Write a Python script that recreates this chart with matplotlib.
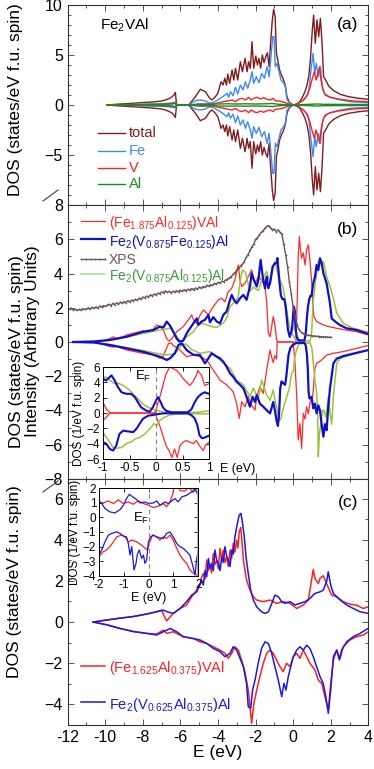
import numpy as np
import matplotlib
matplotlib.use("Agg")
import matplotlib.pyplot as plt
from matplotlib.lines import Line2D
from matplotlib.ticker import MultipleLocator

plt.rcParams['font.family'] = ['Liberation Sans', 'DejaVu Sans']
plt.rcParams['mathtext.fontset'] = 'custom'
plt.rcParams['mathtext.rm'] = 'Liberation Sans'
plt.rcParams['mathtext.it'] = 'Liberation Sans:italic'

# ---------------- Panel (a): Fe2VAl (spin-down = mirror of spin-up) ----------------
a_total = [(-9.92,0),(-9.5,0.06),(-9.0,0.12),(-8.5,0.18),(-8.0,0.24),(-7.5,0.3),(-7.0,0.4),(-6.8,0.5),(-6.6,0.65),
           (-6.45,0.8),(-6.35,1.0),(-6.27,1.25),(-6.22,0.3),(-6.18,0.0),(-5.56,0.0),(-5.20,0.83),(-4.94,1.57),(-4.67,1.33),
           (-4.44,0.67),(-4.32,0.5),(-4.14,0.83),(-4.01,1.17),(-3.91,1.83),(-3.84,2.33),(-3.73,2.0),(-3.64,2.67),(-3.55,2.0),
           (-3.48,3.1),(-3.38,2.17),(-3.25,3.5),(-3.16,2.5),(-3.07,3.67),(-2.95,2.5),(-2.81,4.33),(-2.70,3.33),(-2.56,4.67),
           (-2.45,3.33),(-2.37,4.33),(-2.28,3.67),(-2.19,6.33),(-2.10,3.67),(-1.99,4.9),(-1.90,4.0),(-1.82,4.67),(-1.73,3.67),
           (-1.64,5.0),(-1.55,4.23),(-1.46,4.83),(-1.37,5.23),(-1.28,3.83),(-1.20,6.17),(-1.11,8.5),(-1.04,9.57),(-0.96,8.83),
           (-0.89,5.17),(-0.80,4.33),(-0.72,3.5),(-0.63,3.0),(-0.54,2.67),(-0.45,2.17),(-0.40,1.77),(-0.33,0.83),(-0.22,0.33),
           (-0.06,0.07),(0.03,0.0),(0.17,0.07),(0.35,0.33),(0.49,0.77),(0.63,1.33),(0.74,2.0),(0.84,3.0),(0.93,4.83),(1.02,7.5),
           (1.09,9.0),(1.18,6.17),(1.27,8.5),(1.36,6.83),(1.45,8.67),(1.54,6.17),(1.62,2.83),(1.73,2.5),(1.89,1.9),(2.16,1.43),
           (2.51,1.07),(2.95,0.83),(3.49,0.67),(4.0,0.57)]
a_fe = [(-9.92,0),(-9.0,0.04),(-8.0,0.08),(-7.0,0.12),(-6.6,0.18),(-6.35,0.25),(-6.25,0.3),(-6.2,0.05),(-6.18,0),(-5.56,0),
        (-5.2,0.43),(-4.94,0.5),(-4.67,0.4),(-4.44,0.17),(-4.23,0.27),(-4.01,0.5),(-3.87,0.67),(-3.70,0.9),(-3.52,1.17),
        (-3.43,0.77),(-3.34,1.33),(-3.20,0.93),(-3.07,1.77),(-2.95,1.1),(-2.81,2.0),(-2.67,1.5),(-2.54,2.33),(-2.42,1.67),
        (-2.28,2.5),(-2.19,3.33),(-2.10,2.17),(-1.96,2.83),(-1.82,2.23),(-1.67,3.17),(-1.53,2.67),(-1.39,3.83),(-1.28,2.83),
        (-1.18,4.83),(-1.09,6.83),(-1.02,6.83),(-0.95,3.83),(-0.86,4.17),(-0.75,3.33),(-0.65,2.5),(-0.50,2.17),(-0.41,1.77),
        (-0.33,0.57),(-0.18,0.17),(0.03,0),(0.29,0.17),(0.49,0.43),(0.70,0.83),(0.84,1.5),(0.95,3.5),(1.06,5.17),(1.15,3.17),
        (1.23,4.17),(1.34,2.83),(1.45,3.83),(1.55,1.83),(1.66,1.17),(1.89,0.83),(2.33,0.57),(3.04,0.33),(4.0,0.23)]
a_v = [(-9.92,0),(-8.0,0.03),(-7.0,0.06),(-6.5,0.1),(-6.3,0.2),(-6.22,0.05),(-6.18,0),(-5.56,0),(-4.94,0.1),(-4.23,0.1),
       (-3.87,0.27),(-3.52,0.4),(-3.25,0.5),(-3.07,0.33),(-2.90,0.57),(-2.72,0.67),(-2.54,0.5),(-2.37,0.77),(-2.24,0.5),
       (-2.10,0.67),(-1.92,0.77),(-1.74,0.6),(-1.57,0.73),(-1.39,0.57),(-1.21,0.5),(-1.07,0.67),(-0.95,0.43),(-0.77,0.4),
       (-0.59,0.33),(-0.41,0.23),(-0.24,0.1),(0.03,0),(0.29,0.17),(0.56,0.5),(0.77,1.0),(0.91,1.83),(1.02,2.67),(1.13,3.33),
       (1.22,2.5),(1.30,3.0),(1.41,3.83),(1.48,2.5),(1.59,1.5),(1.71,1.0),(1.98,0.77),(2.51,0.57),(3.22,0.4),(4.0,0.33)]
a_al = [(-9.92,0),(-8.0,0.04),(-7.0,0.07),(-6.4,0.12),(-6.25,0.15),(-6.2,0.02),(-5.56,0),(-5.0,0.08),(-4.5,0.06),(-4.0,0.1),
        (-3.5,0.12),(-3.0,0.1),(-2.5,0.12),(-2.0,0.1),(-1.5,0.12),(-1.1,0.15),(-0.8,0.08),(-0.3,0.03),(0.03,0),(0.5,0.04),
        (1.0,0.08),(1.3,0.1),(1.6,0.07),(2.5,0.06),(4.0,0.05)]

# ---------------- Panel (b) ----------------
xps_E = np.round(np.arange(-12.0, 2.001, 0.1), 2)
xps = [1.95,1.90,1.98,1.88,1.92,1.85,1.90,1.87,1.95,1.90,
       1.93,2.00,1.92,2.02,1.97,2.05,1.98,2.10,2.03,2.12,
       2.08,2.15,2.20,2.12,2.25,2.18,2.28,2.22,2.33,2.26,
       2.36,2.30,2.42,2.35,2.45,2.40,2.50,2.44,2.56,2.50,
       2.62,2.58,2.68,2.63,2.75,2.70,2.80,2.76,2.86,2.82,
       2.92,2.88,2.98,2.90,2.95,2.88,2.96,2.92,3.00,2.94,
       3.02,2.97,3.05,3.00,3.08,3.03,3.12,3.06,3.15,3.10,
       3.20,3.15,3.24,3.20,3.30,3.26,3.35,3.30,3.42,3.38,
       3.48,3.45,3.55,3.52,3.62,3.66,3.75,3.82,3.95,4.05,
       4.20,4.30,4.45,4.55,4.70,4.95,5.10,5.35,5.55,5.70,
       6.00,6.10,6.25,6.40,6.50,6.65,6.75,6.80,6.65,6.55,
       6.60,6.45,6.55,6.40,6.30,5.70,5.10,4.40,3.50,2.80,
       2.05,1.50,1.05,0.75,0.60,0.50,0.45,0.42,0.40,0.38,
       0.36,0.35,0.34,0.33,0.32,0.31,0.30,0.30,0.29,0.28,
       0.28]

b_red_up = [(-10.64,0),(-10.2,0.05),(-9.93,0.12),(-9.75,0.21),(-9.57,0.3),(-9.4,0.2),(-9.04,0.31),(-8.86,0.41),(-8.5,0.51),
            (-7.98,0.65),(-7.8,0.55),(-7.44,0.75),(-7.27,0.99),(-7.09,0.9),(-6.91,0.7),(-6.73,0.2),(-6.6,0.05),(-6.45,0.2),
            (-6.2,0.6),(-6.02,0.75),(-5.85,0.9),(-5.58,1.29),(-5.4,1.58),(-5.31,1.3),(-5.13,1.09),(-4.96,1.55),(-4.78,1.87),
            (-4.51,1.6),(-4.25,2.07),(-3.98,2.46),(-3.81,2.55),(-3.63,2.35),(-3.45,2.94),(-3.27,3.14),(-3.1,3.63),(-3.01,4.11),
            (-2.92,4.5),(-2.83,3.63),(-2.74,3.24),(-2.56,3.43),(-2.39,3.82),(-2.21,4.21),(-2.03,3.43),(-1.85,3.82),(-1.68,3.63),
            (-1.5,3.24),(-1.41,2.36),(-1.32,0.5),(-1.23,0.31),(-1.06,1.48),(-0.97,0.99),(-0.88,0.12),(-0.8,0.0),(0.15,0.0),
            (0.22,2.5),(0.27,5.0),(0.33,6.16),(0.40,5.3),(0.45,4.89),(0.54,5.2),(0.63,4.5),(0.72,5.4),(0.81,5.67),(0.9,4.7),
            (0.98,3.63),(1.04,2.26),(1.11,1.48),(1.25,1.19),(1.61,0.99),(1.9,0.9),(2.32,0.8),(2.8,0.7),(3.38,0.6),(3.7,0.5),(4.0,0.42)]
b_red_dn = [(-10.64,0),(-10.2,-0.1),(-9.75,-0.27),(-9.57,-0.3),(-9.4,-0.25),(-8.86,-0.47),(-7.98,-0.66),(-7.44,-0.75),
            (-7.09,-0.95),(-6.91,-0.8),(-6.64,-0.1),(-6.5,-0.05),(-6.38,-0.2),(-6.02,-0.47),(-5.67,-0.86),(-5.31,-0.75),
            (-4.96,-0.86),(-4.6,-1.05),(-4.25,-1.64),(-3.9,-2.22),(-3.54,-2.51),(-3.19,-2.9),(-3.01,-3.59),(-2.87,-4.46),
            (-2.74,-3.5),(-2.56,-3.78),(-2.39,-3.2),(-2.21,-3.7),(-2.03,-3.97),(-1.94,-3.2),(-1.77,-2.61),(-1.59,-3.0),
            (-1.41,-1.64),(-1.32,-1.05),(-1.23,-0.47),(-1.14,-0.9),(-1.06,-1.2),(-0.97,-0.8),(-0.88,-1.0),(-0.85,0.0),(0.0,0.0),
            (0.05,-0.6),(0.1,-1.25),(0.19,-3.2),(0.27,-5.73),(0.36,-4.76),(0.45,-6.22),(0.54,-4.17),(0.63,-4.5),(0.72,-3.78),
            (0.81,-4.2),(0.9,-3.49),(1.04,-3.2),(1.16,-1.54),(1.25,-1.25),(1.52,-1.05),(1.78,-0.76),(2.14,-0.66),(2.67,-0.56),
            (3.38,-0.37),(4.0,-0.2)]
b_blue_up = [(-11.7,0),(-10.6,0.03),(-9.75,0.12),(-8.86,0.31),(-7.98,0.6),(-7.44,0.7),(-7.09,0.9),(-6.9,0.85),(-6.73,1.19),
             (-6.55,0.95),(-6.38,0.6),(-6.2,0.2),(-6.05,0.02),(-5.85,0.08),(-5.67,0.5),(-5.49,0.8),(-5.31,1.09),(-5.13,1.38),
             (-5.05,1.0),(-4.87,1.2),(-4.69,1.3),(-4.51,1.58),(-4.43,1.15),(-4.25,1.45),(-4.07,1.2),(-3.89,1.09),(-3.72,1.58),
             (-3.54,1.78),(-3.36,2.46),(-3.27,2.75),(-3.15,2.46),(-3.01,2.26),(-2.83,2.55),(-2.65,2.75),(-2.48,2.46),(-2.3,3.24),
             (-2.21,4.01),(-2.12,3.7),(-1.94,3.24),(-1.85,3.63),(-1.73,4.79),(-1.62,3.82),(-1.5,3.14),(-1.41,3.82),(-1.32,3.14),
             (-1.23,3.43),(-1.09,4.41),(-0.97,4.6),(-0.88,4.6),(-0.84,4.9),(-0.72,3.4),(-0.65,2.7),(-0.56,2.5),(-0.47,2.5),
             (-0.4,2.07),(-0.34,1.4),(-0.28,0.74),(-0.18,0.3),(-0.06,0.74),(0.01,1.76),(0.04,2.07),(0.09,1.8),(0.13,0.74),
             (0.19,0.3),(0.29,0.09),(0.6,0.09),(0.67,0.5),(0.73,1.4),(0.79,2.07),(0.86,2.5),(0.92,2.7),(0.98,2.7),(1.07,3.43),
             (1.16,3.8),(1.25,4.5),(1.34,4.2),(1.43,4.89),(1.52,4.6),(1.61,4.02),(1.78,3.43),(1.96,2.26),(2.05,1.38),(2.23,1.2),
             (2.49,0.99),(2.85,0.8),(3.38,0.7),(3.91,0.5),(4.0,0.48)]
b_blue_dn = [(-11.7,0),(-10.6,-0.03),(-9.75,-0.18),(-8.86,-0.37),(-7.98,-0.57),(-7.09,-0.86),(-6.73,-1.05),(-6.55,-0.95),
             (-6.29,-0.65),(-6.11,-0.18),(-5.93,-0.08),(-5.67,-0.47),(-5.31,-0.75),(-4.96,-0.76),(-4.69,-1.25),(-4.51,-0.95),
             (-4.34,-0.66),(-4.07,-0.85),(-3.9,-0.95),(-3.72,-1.15),(-3.54,-1.45),(-3.36,-1.83),(-3.19,-2.03),(-3.01,-2.32),
             (-2.83,-2.5),(-2.65,-2.7),(-2.48,-3.2),(-2.3,-3.78),(-2.16,-3.2),(-2.03,-3.5),(-1.94,-3.1),(-1.77,-3.6),
             (-1.59,-3.78),(-1.41,-3.98),(-1.23,-4.17),(-1.06,-3.5),(-0.97,-4.0),(-0.88,-4.6),(-0.81,-4.9),(-0.75,-4.26),
             (-0.69,-2.73),(-0.62,-2.3),(-0.53,-2.4),(-0.43,-2.5),(-0.37,-2.07),(-0.31,-1.43),(-0.25,-0.78),(-0.15,-0.35),
             (0.0,-0.15),(0.2,-0.05),(0.6,-0.05),(0.67,-0.2),(0.73,-0.7),(0.78,-1.57),(0.82,-2.9),(0.87,-3.3),(0.98,-3.2),
             (1.07,-3.88),(1.16,-3.6),(1.25,-4.17),(1.34,-3.7),(1.43,-4.0),(1.52,-4.85),(1.61,-5.53),(1.69,-4.8),(1.78,-5.15),
             (1.87,-3.8),(1.96,-2.71),(2.05,-2.0),(2.14,-1.25),(2.32,-0.97),(2.67,-0.82),(3.2,-0.68),(4.0,-0.47)]
b_grn_up = [(-11.7,0),(-10.6,0.03),(-9.75,0.1),(-8.86,0.28),(-7.98,0.5),(-7.09,0.7),(-6.8,0.75),(-6.55,0.8),(-6.29,0.5),
            (-6.02,0.04),(-5.85,0.1),(-5.67,0.3),(-5.31,0.6),(-5.13,0.9),(-4.87,1.1),(-4.6,1.0),(-4.34,0.9),(-4.07,0.85),
            (-3.72,1.1),(-3.54,1.4),(-3.36,2.07),(-3.1,2.35),(-2.92,2.65),(-2.83,3.5),(-2.7,4.2),(-2.56,4.1),(-2.48,3.8),
            (-2.3,2.95),(-2.12,3.2),(-1.85,3.0),(-1.68,3.6),(-1.41,4.11),(-1.23,3.43),(-1.06,4.4),(-0.97,4.69),(-0.87,4.25),
            (-0.78,3.82),(-0.53,3.16),(-0.43,2.5),(-0.34,1.85),(-0.25,1.2),(-0.15,0.74),(-0.06,0.52),(0.04,0.3),(0.16,0.09),
            (0.9,0.05),(0.98,0.5),(1.07,2.46),(1.16,3.24),(1.25,4.0),(1.34,4.7),(1.43,4.89),(1.52,4.4),(1.61,4.7),(1.78,3.82),
            (1.96,3.24),(2.14,2.55),(2.32,1.68),(2.67,1.09),(3.2,0.8),(3.91,0.6),(4.0,0.58)]
b_grn_dn = [(-11.7,0),(-10.6,-0.03),(-9.75,-0.15),(-8.86,-0.33),(-7.98,-0.5),(-7.09,-0.7),(-6.73,-0.75),(-6.38,-0.7),
            (-6.1,-0.45),(-5.9,-0.1),(-5.67,-0.15),(-5.4,-0.45),(-4.96,-0.66),(-4.43,-0.56),(-3.9,-1.05),(-3.36,-1.54),
            (-3.01,-2.22),(-2.65,-2.5),(-2.3,-3.2),(-2.12,-2.7),(-1.85,-3.3),(-1.68,-2.22),(-1.59,-2.5),(-1.41,-3.1),
            (-1.23,-3.4),(-1.06,-2.8),(-0.95,-3.5),(-0.87,-3.8),(-0.78,-4.6),(-0.65,-4.5),(-0.56,-4.0),(-0.4,-3.4),
            (-0.21,-2.73),(-0.09,-1.86),(0.01,-1.7),(0.07,-0.98),(0.16,-0.55),(0.3,-0.12),(0.9,-0.05),(1.0,-0.4),(1.07,-1.2),
            (1.16,-2.2),(1.25,-3.0),(1.3,-4.0),(1.34,-6.7),(1.4,-5.34),(1.47,-4.8),(1.57,-4.0),(1.64,-4.0),(1.75,-4.4),
            (1.87,-3.2),(1.96,-4.1),(2.05,-4.8),(2.14,-3.2),(2.23,-2.2),(2.32,-1.25),(2.49,-0.97),(3.02,-0.76),(4.0,-0.47)]

# inset (b)
ib_red_up = [(-1,1.4),(-0.94,0.54),(-0.87,0),(-0.03,0),(0.01,0.54),(0.04,1.4),(0.07,2.0),(0.13,3.6),(0.19,5.1),(0.26,6.0),
             (0.32,5.8),(0.38,5.6),(0.45,5.1),(0.51,4.5),(0.57,4.1),(0.64,3.6),(0.7,4.1),(0.76,4.9),(0.79,5.56),(0.86,4.9),
             (0.92,3.6),(1.0,3.8)]
ib_red_dn = [(-1,-1.0),(-0.94,-0.57),(-0.87,0),(0.0,0),(0.01,-0.57),(0.07,-1.64),(0.13,-2.95),(0.19,-4.26),(0.26,-5.1),
             (0.3,-5.8),(0.35,-4.7),(0.4,-5.8),(0.45,-4.26),(0.51,-3.8),(0.57,-3.6),(0.64,-3.8),(0.7,-4.0),(0.76,-3.6),
             (0.82,-4.26),(0.89,-4.9),(0.93,-4.26),(1.0,-3.8)]
ib_blue_up = [(-1,4.47),(-0.94,4.25),(-0.84,4.9),(-0.78,4.25),(-0.72,3.4),(-0.65,2.7),(-0.56,2.5),(-0.47,2.5),(-0.4,2.07),
              (-0.34,1.4),(-0.28,0.74),(-0.18,0.3),(-0.12,0.17),(-0.06,0.74),(0.01,1.76),(0.04,2.07),(0.09,1.4),(0.13,0.74),
              (0.19,0.3),(0.29,0.09),(0.6,0.09),(0.67,0.5),(0.73,1.4),(0.79,2.07),(0.86,2.5),(0.92,2.7),(1.0,2.5)]
ib_blue_dn = [(-1,-3.8),(-0.94,-4.0),(-0.87,-4.7),(-0.81,-4.9),(-0.75,-4.26),(-0.69,-2.73),(-0.62,-2.3),(-0.53,-2.4),
              (-0.43,-2.5),(-0.37,-2.07),(-0.31,-1.43),(-0.25,-0.78),(-0.15,-0.35),(-0.06,-0.26),(0.04,-0.13),(0.16,-0.04),
              (0.6,-0.04),(0.67,-0.3),(0.73,-0.7),(0.78,-1.57),(0.82,-2.9),(0.87,-3.3),(0.92,-3.2),(1.0,-2.95)]
ib_grn_up = [(-1,4.69),(-0.94,4.69),(-0.87,4.25),(-0.78,3.82),(-0.72,3.9),(-0.62,3.6),(-0.53,3.16),(-0.43,2.5),(-0.34,1.85),
             (-0.25,1.2),(-0.15,0.74),(-0.06,0.52),(0.04,0.3),(0.16,0.09),(0.79,0.09),(1.0,0.3)]
ib_grn_dn = [(-1,-2.5),(-0.94,-3.2),(-0.87,-3.8),(-0.81,-4.5),(-0.75,-4.6),(-0.65,-4.5),(-0.56,-4.0),(-0.47,-3.8),(-0.4,-3.4),
             (-0.31,-3.2),(-0.21,-2.73),(-0.15,-2.3),(-0.09,-1.86),(-0.04,-1.4),(0.01,-1.64),(0.07,-0.98),(0.16,-0.55),
             (0.26,-0.26),(0.42,-0.13),(1.0,-0.1)]

# ---------------- Panel (c) ----------------
c_red_up = [(-10.64,0),(-9.93,0.1),(-9.22,0.19),(-8.5,0.27),(-7.8,0.39),(-7.27,0.5),(-7.0,0.58),(-6.82,0.2),(-6.73,0.06),
            (-6.55,0.25),(-6.38,0.42),(-6.02,0.66),(-5.67,0.83),(-5.4,1.23),(-5.22,1.45),(-4.96,1.8),(-4.87,2.2),(-4.78,2.36),
            (-4.69,2.1),(-4.6,3.01),(-4.52,2.5),(-4.43,2.76),(-4.34,2.4),(-4.25,3.33),(-4.16,2.8),(-4.07,3.0),(-3.98,2.6),
            (-3.89,3.58),(-3.8,3.0),(-3.72,3.5),(-3.63,2.9),(-3.54,3.17),(-3.45,2.7),(-3.36,3.5),(-3.27,3.1),(-3.19,3.82),
            (-3.1,3.4),(-3.01,3.98),(-2.94,3.6),(-2.87,4.39),(-2.79,4.6),(-2.72,3.9),(-2.65,3.01),(-2.48,2.04),(-2.3,1.55),
            (-2.12,1.23),(-1.94,1.07),(-1.59,0.99),(-1.23,1.07),(-0.88,0.91),(-0.53,0.99),(-0.17,0.91),(0.19,0.66),(0.54,0.83),
            (0.81,1.07),(0.98,2.04),(1.07,2.56),(1.16,2.12),(1.34,1.87),(1.43,2.12),(1.6,2.25),(1.78,1.87),(2.05,1.31),
            (2.32,1.23),(2.67,0.99),(3.02,0.87),(3.38,0.82),(3.73,0.66),(4.0,0.74)]
c_blue_up = [(-10.64,0),(-9.93,0.1),(-9.22,0.19),(-8.5,0.27),(-7.8,0.39),(-7.27,0.5),(-6.91,0.58),(-6.7,0.5),(-6.38,0.42),
             (-6.02,0.66),(-5.67,0.99),(-5.4,1.31),(-5.13,1.47),(-4.87,2.04),(-4.78,1.8),(-4.69,2.5),(-4.6,2.2),(-4.51,3.09),
             (-4.43,2.6),(-4.34,2.85),(-4.25,2.5),(-4.16,3.5),(-4.07,3.0),(-3.98,2.85),(-3.89,2.5),(-3.8,3.17),(-3.72,2.9),
             (-3.63,3.66),(-3.54,3.2),(-3.45,3.01),(-3.36,2.7),(-3.27,3.5),(-3.19,3.3),(-3.1,4.14),(-2.97,4.79),(-2.87,5.2),
             (-2.78,5.28),(-2.69,4.79),(-2.6,4.14),(-2.51,3.17),(-2.39,2.36),(-2.26,1.55),(-2.12,1.07),(-1.94,0.74),(-1.68,0.5),
             (-1.5,0.42),(-1.32,0.5),(-1.14,0.9),(-0.97,1.31),(-0.79,1.23),(-0.61,0.99),(-0.44,0.91),(-0.17,0.99),(0.1,0.83),
             (0.36,0.91),(0.63,0.99),(0.89,1.15),(1.16,1.39),(1.43,1.47),(1.6,1.55),(1.78,1.96),(1.87,2.44),(2.0,1.8),
             (2.14,1.39),(2.5,1.07),(2.85,0.83),(3.2,0.66),(3.56,0.5),(4.0,0.42)]
c_red_dn = [(-10.64,0),(-9.93,-0.13),(-9.22,-0.31),(-8.5,-0.46),(-7.8,-0.55),(-7.27,-0.58),(-6.91,-0.39),(-6.73,-0.55),
            (-6.38,-0.47),(-5.85,-0.71),(-5.31,-0.8),(-4.96,-0.96),(-4.6,-1.04),(-4.25,-1.2),(-3.89,-1.36),(-3.63,-1.52),
            (-3.45,-1.76),(-3.27,-1.52),(-3.1,-1.2),(-2.92,-1.36),(-2.74,-1.85),(-2.57,-2.41),(-2.39,-3.3),(-2.26,-4.43),
            (-2.21,-4.92),(-2.09,-3.95),(-1.94,-3.3),(-1.77,-2.65),(-1.59,-2.0),(-1.41,-1.52),(-1.23,-1.36),(-1.06,-1.52),
            (-0.88,-1.85),(-0.7,-2.17),(-0.53,-2.41),(-0.35,-2.0),(-0.17,-2.17),(0.01,-1.68),(0.19,-1.52),(0.36,-1.76),
            (0.54,-1.36),(0.72,-1.68),(0.89,-2.0),(1.16,-2.33),(1.34,-2.82),(1.52,-2.98),(1.69,-3.62),(1.87,-4.27),(2.0,-2.98),
            (2.14,-1.85),(2.32,-1.36),(2.5,-1.76),(2.67,-1.2),(3.02,-0.87),(3.38,-0.71),(3.73,-0.63),(4.0,-0.47)]
c_blue_dn = [(-10.64,0),(-9.93,-0.13),(-9.22,-0.31),(-8.5,-0.46),(-7.8,-0.55),(-7.27,-0.63),(-6.91,-0.47),(-6.73,-0.39),
             (-6.55,-0.31),(-6.2,-0.47),(-5.85,-0.71),(-5.31,-0.8),(-4.96,-0.87),(-4.6,-1.04),(-4.25,-1.28),(-3.89,-1.44),
             (-3.63,-1.68),(-3.36,-1.52),(-3.19,-1.2),(-3.01,-1.36),(-2.83,-1.76),(-2.65,-2.17),(-2.48,-2.98),(-2.39,-4.11),
             (-2.26,-4.19),(-2.16,-3.3),(-2.03,-2.82),(-1.86,-2.0),(-1.68,-1.28),(-1.5,-0.96),(-1.32,-1.04),(-1.14,-1.52),
             (-0.97,-2.17),(-0.79,-2.82),(-0.61,-3.62),(-0.49,-2.98),(-0.38,-3.3),(-0.26,-2.65),(-0.13,-2.17),(0.01,-1.68),
             (0.19,-1.36),(0.36,-1.2),(0.54,-1.36),(0.72,-1.12),(0.89,-1.28),(1.07,-1.68),(1.25,-2.17),(1.43,-2.65),(1.6,-2.98),
             (1.74,-3.62),(1.87,-4.43),(2.0,-3.3),(2.14,-1.68),(2.32,-1.36),(2.46,-1.84),(2.58,-1.36),(2.85,-0.96),(3.2,-0.71),
             (3.56,-0.55),(4.0,-0.3)]

# inset (c)
ic_red_up = [(-2,1.05),(-1.83,0.98),(-1.62,1.12),(-1.42,0.94),(-1.22,1.2),(-1.02,0.94),(-0.82,1.05),(-0.62,0.89),(-0.42,1.12),
             (-0.21,0.94),(-0.01,0.82),(0.19,0.67),(0.39,0.76),(0.59,0.94),(0.72,0.72),(0.86,1.05),(0.97,1.6),(1.06,2.3),
             (1.15,2.6),(1.26,1.82),(1.46,1.78),(1.6,2.05),(1.8,1.7),(1.93,1.95)]
ic_blue_up = [(-2,1.12),(-1.89,0.94),(-1.76,0.6),(-1.56,0.37),(-1.36,0.3),(-1.15,0.53),(-1.02,0.82),(-0.89,1.28),(-0.78,1.57),
              (-0.64,1.39),(-0.48,1.21),(-0.35,0.98),(-0.15,1.05),(-0.01,0.94),(0.19,0.98),(0.32,1.12),(0.46,0.82),(0.66,1.05),
              (0.79,0.94),(0.93,1.12),(1.06,1.28),(1.19,1.05),(1.33,1.39),(1.53,1.5),(1.73,1.73),(1.87,1.95),(1.96,1.6)]
ic_red_dn = [(-2,-2.68),(-1.83,-2.34),(-1.69,-2.22),(-1.56,-2.0),(-1.42,-1.67),(-1.29,-1.33),(-1.09,-1.21),(-0.95,-1.33),
             (-0.82,-1.67),(-0.68,-1.55),(-0.48,-1.67),(-0.28,-1.9),(-0.15,-2.1),(-0.05,-2.22),(0.05,-1.67),(0.16,-1.21),
             (0.32,-1.33),(0.46,-1.55),(0.59,-1.33),(0.72,-1.44),(0.86,-1.21),(0.99,-1.55),(1.13,-2.1),(1.26,-2.57),(1.4,-2.9),
             (1.53,-3.14),(1.66,-3.59),(1.8,-3.82),(1.93,-3.93)]
ic_blue_dn = [(-2,-2.57),(-1.89,-2.22),(-1.76,-1.67),(-1.62,-1.21),(-1.49,-1.1),(-1.29,-0.99),(-1.15,-1.1),(-1.02,-1.28),
              (-0.89,-1.33),(-0.82,-1.78),(-0.75,-2.57),(-0.68,-2.0),(-0.59,-3.59),(-0.51,-3.14),(-0.46,-2.57),(-0.38,-2.22),
              (-0.28,-2.8),(-0.21,-2.57),(-0.15,-3.14),(-0.08,-2.9),(-0.01,-1.67),(0.08,-1.33),(0.19,-1.21),(0.32,-1.33),
              (0.46,-1.4),(0.59,-1.44),(0.72,-1.1),(0.86,-0.99),(0.99,-1.33),(1.13,-1.78),(1.26,-2.0),(1.4,-2.12),(1.53,-2.34),
              (1.66,-2.57),(1.77,-3.25),(1.87,-3.93),(1.93,-2.9),(2.0,-2.22)]

# ---------------- styling ----------------
C_TOT, C_FE, C_V, C_AL = '#7f1d1d', '#3d8af7', '#ff2020', '#1f8a1f'
C_RED, C_BLUE, C_XPS, C_GRN, C_GRN_TXT, C_GRN_LEG = '#ff2a2a', '#1010c8', '#6b5553', '#9cc23c', '#3a9a3a', '#92ec7a'
C_C_RED, C_C_BLUE = '#ff2020', '#1a1ae0'

W, H = 374.0, 769.0
def rect(l, t, r, b):
    return [l / W, 1 - b / H, (r - l) / W, (b - t) / H]

def xy(pairs):
    a = np.array(pairs, dtype=float)
    return a[:, 0], a[:, 1]

fig = plt.figure(figsize=(3.74, 7.69), dpi=100)
axA = fig.add_axes(rect(67.7, 5, 368.3, 205))
axB = fig.add_axes(rect(67.7, 205, 368.3, 479))
axC = fig.add_axes(rect(67.7, 479, 368.3, 725))

def style_main(ax):
    ax.set_xlim(-12, 4)
    ax.xaxis.set_major_locator(MultipleLocator(2))
    ax.xaxis.set_minor_locator(MultipleLocator(1))
    ax.tick_params(which='both', direction='in', top=True, right=True, labelsize=11.5, width=0.7, color='#555555')
    ax.tick_params(which='major', length=4)
    ax.tick_params(which='minor', length=2.5)
    for s in ax.spines.values():
        s.set_linewidth(0.8)
        s.set_color('#333333')

# ---- (a)
for data, col, lw in [(a_total, C_TOT, 1.0), (a_fe, C_FE, 1.0), (a_v, C_V, 1.0), (a_al, C_AL, 1.0)]:
    e, v = xy(data)
    axA.plot(e, v, color=col, lw=lw)
    axA.plot(e, -v, color=col, lw=lw)
style_main(axA)
axA.set_ylim(-10, 10)
axA.set_yticks([-5, 0, 5, 10])
axA.yaxis.set_minor_locator(MultipleLocator(1))
axA.tick_params(labelbottom=False)
axA.text(-10.3, 8.0, r'Fe$_\mathregular{2}$VAl', fontsize=11, va='center', ha='left')
axA.text(2.9, 8.0, '(a)', fontsize=12.5, va='center', ha='center')
for i, (lab, col) in enumerate([('total', C_TOT), ('Fe', C_FE), ('V', C_V), ('Al', C_AL)]):
    yy = [-2.8, -4.6, -6.3, -7.9][i]
    axA.plot([-10.39, -8.95], [yy, yy], color=col, lw=1.0)
    axA.text(-8.75, yy, lab, color=col, fontsize=10.5, va='center', ha='left')

# ---- (b)
e, v = xy(b_red_up); axB.plot(e, v, color=C_RED, lw=0.9)
e, v = xy(b_red_dn); axB.plot(e, v, color=C_RED, lw=0.9)
e, v = xy(b_grn_up); axB.plot(e, v, color=C_GRN, lw=1.1)
e, v = xy(b_grn_dn); axB.plot(e, v, color=C_GRN, lw=1.1)
e, v = xy(b_blue_up); axB.plot(e, v, color=C_BLUE, lw=1.6)
e, v = xy(b_blue_dn); axB.plot(e, v, color=C_BLUE, lw=1.6)
axB.plot(xps_E, xps, color=C_XPS, lw=1.0, marker='+', ms=1.6, mew=0.5)
style_main(axB)
axB.set_ylim(-8, 8)
axB.yaxis.set_major_locator(MultipleLocator(2))
axB.yaxis.set_minor_locator(MultipleLocator(1))
axB.tick_params(labelbottom=False)
axB.text(2.9, 6.55, '(b)', fontsize=12.5, va='center', ha='center')
leg_b = [(r'(Fe$_\mathregular{1.875}$Al$_\mathregular{0.125}$)VAl', C_RED, C_RED, 0.9, 7.08, None),
         (r'Fe$_\mathregular{2}$(V$_\mathregular{0.875}$Fe$_\mathregular{0.125}$)Al', C_BLUE, C_BLUE, 1.6, 6.0, None),
         ('XPS', C_XPS, C_XPS, 1.0, 4.85, '+'),
         (r'Fe$_\mathregular{2}$(V$_\mathregular{0.875}$Al$_\mathregular{0.125}$)Al', C_GRN_LEG, C_GRN_TXT, 1.1, 3.98, None)]
for lab, lc, tc, lw, yy, mk in leg_b:
    if mk:
        axB.plot(np.linspace(-11.29, -10.01, 6), [yy] * 6, color=lc, lw=lw, marker=mk, ms=1.6, mew=0.5)
    else:
        axB.plot([-11.29, -10.01], [yy, yy], color=lc, lw=lw)
    axB.text(-9.8, yy, lab, color=tc, fontsize=10, va='center_baseline', ha='left')

# inset (b)
insB = fig.add_axes(rect(103, 367, 209, 459))
insB.set_facecolor('white')
for data, col, lw in [(ib_red_up, C_RED, 0.9), (ib_red_dn, C_RED, 0.9), (ib_grn_up, C_GRN, 1.1), (ib_grn_dn, C_GRN, 1.1),
                      (ib_blue_up, C_BLUE, 1.5), (ib_blue_dn, C_BLUE, 1.5)]:
    e, v = xy(data)
    insB.plot(e, v, color=col, lw=lw)
insB.axvline(0, color='#888888', lw=0.8, ls=(0, (4, 3)))
insB.set_xlim(-1, 1)
insB.set_ylim(-6, 6)
insB.set_xticks([-1, -0.5, 0, 0.5, 1])
insB.set_xticklabels(['-1', '-0.5', '0', '0.5', '1'])
insB.set_yticks([-6, -4, -2, 0, 2, 4, 6])
insB.tick_params(which='both', direction='in', top=True, right=True, labelsize=8.5, length=3, width=0.6, pad=2)
insB.set_ylabel('DOS (1/eV f.u. spin)', fontsize=8.5, labelpad=1)
insB.text(1.2, -6.55, 'E (eV)', fontsize=9, ha='left', va='top', clip_on=False)
insB.text(-0.25, 4.8, r'E$_\mathregular{F}$', fontsize=9.5, ha='center', va='center')
for s in insB.spines.values():
    s.set_linewidth(0.7)

# ---- (c)
e, v = xy(c_red_up); axC.plot(e, v, color=C_C_RED, lw=1.1)
e, v = xy(c_red_dn); axC.plot(e, v, color=C_C_RED, lw=1.1)
e, v = xy(c_blue_up); axC.plot(e, v, color=C_C_BLUE, lw=1.1)
e, v = xy(c_blue_dn); axC.plot(e, v, color=C_C_BLUE, lw=1.1)
style_main(axC)
axC.set_ylim(-5, 6.95)
axC.set_yticks([-4, -2, 0, 2, 4, 6])
axC.yaxis.set_minor_locator(MultipleLocator(1))
axC.set_xticks([-12, -10, -8, -6, -4, -2, 0, 2, 4])
axC.set_xticklabels(['-12', '-10', '-8', '-6', '-4', '-2', '0', '2', '4'])
axC.set_xlabel('E (eV)', fontsize=12.5, labelpad=0)
axC.text(2.9, 5.8, '(c)', fontsize=12.5, va='center', ha='center')
for lab, col, yy in [(r'(Fe$_\mathregular{1.625}$Al$_\mathregular{0.375}$)VAl', C_C_RED, -2.12),
                     (r'Fe$_\mathregular{2}$(V$_\mathregular{0.625}$Al$_\mathregular{0.375}$)Al', C_C_BLUE, -3.9)]:
    axC.plot([-11.29, -10.01], [yy, yy], color=col, lw=1.1)
    axC.text(-9.8, yy, lab, color=col, fontsize=10.5, va='center_baseline', ha='left')

# inset (c)
insC = fig.add_axes(rect(99, 488, 198.3, 576))
insC.set_facecolor('white')
for data, col in [(ic_red_up, C_C_RED), (ic_red_dn, C_C_RED), (ic_blue_up, C_C_BLUE), (ic_blue_dn, C_C_BLUE)]:
    e, v = xy(data)
    insC.plot(e, v, color=col, lw=0.9)
insC.axvline(0, color='#888888', lw=0.8, ls=(0, (4, 3)))
insC.axvline(1.985, color='#aaaaaa', lw=2.0)
insC.set_xlim(-2, 2)
insC.set_ylim(-4, 2)
insC.set_xticks([-2, -1, 0, 1, 2])
insC.set_xticklabels(['-2', '-1', '0', '1', '2'])
insC.set_yticks([-4, -3, -2, -1, 0, 1, 2])
insC.tick_params(which='both', direction='in', top=True, right=True, labelsize=8.5, length=3, width=0.6, pad=2)
insC.set_ylabel('DOS (1/eV f.u. spin)', fontsize=8.5, labelpad=1)
insC.set_xlabel('E (eV)', fontsize=9, labelpad=1)
insC.text(-0.3, -0.1, r'E$_\mathregular{F}$', fontsize=9.5, ha='center', va='center')
for s in insC.spines.values():
    s.set_linewidth(0.7)

# y labels
fig.text(16 / W, 1 - 100 / H, 'DOS (states/eV f.u. spin)', rotation=90, fontsize=12.5, ha='center', va='center')
fig.text(17 / W, 1 - 352 / H, 'DOS (states/eV f.u. spin)', rotation=90, fontsize=12.5, ha='center', va='center')
fig.text(33 / W, 1 - 341 / H, 'Intensity (Arbitrary Units)', rotation=90, fontsize=12.5, ha='center', va='center')
fig.text(15 / W, 1 - 582 / H, 'DOS (states/eV f.u. spin)', rotation=90, fontsize=12.5, ha='center', va='center')

# axis-break marks
fig.add_artist(Line2D([43 / W, 58 / W], [1 - 201 / H, 1 - 190 / H], color='#444444', lw=0.8))
fig.add_artist(Line2D([43 / W, 58 / W], [1 - 492 / H, 1 - 481 / H], color='#444444', lw=0.8))

fig.savefig('out.png', dpi=100)
